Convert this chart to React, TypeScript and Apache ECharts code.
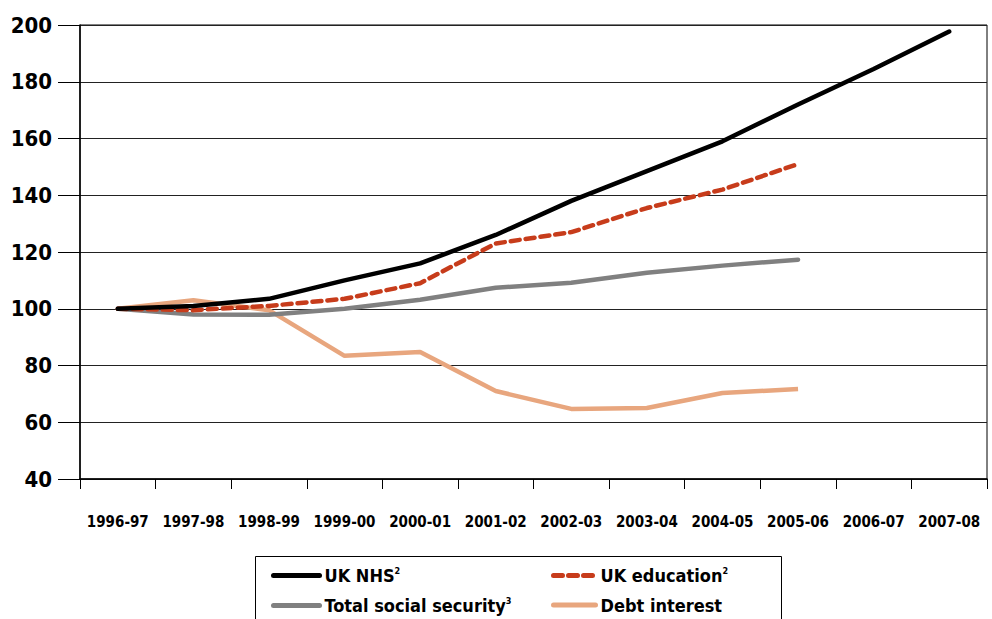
import React, { useEffect, useRef } from "react";
import * as echarts from "echarts";

const categories = ["1996-97", "1997-98", "1998-99", "1999-00", "2000-01", "2001-02", "2002-03", "2003-04", "2004-05", "2005-06", "2006-07", "2007-08"];
const nhs = [100, 101, 103.5, 110, 116, 126, 138, 148.5, 159, 172, 184.5, 197.7];
const education = [100, 99.5, 101, 103.5, 109, 123, 127, 135.5, 142, 151];
const socialSecurity = [100, 98, 97.9, 100, 103.2, 107.4, 109.2, 112.7, 115.2, 117.3];
const debtInterest = [100, 103, 99.5, 83.4, 84.8, 71, 64.7, 65, 70.3, 71.7];
const yTicks = { min: 40, max: 200, interval: 20 };

const FONT = "DejaVu Sans Condensed";

const legendNames: Record<string, string> = {
  "UK NHS": "{a|UK NHS}{s|2}",
  "UK education": "{a|UK education}{s|2}",
  "Total social security": "{a|Total social security}{s|3}",
  "Debt interest": "{a|Debt interest}",
};

const legendText = {
  color: "#000",
  fontFamily: FONT,
  rich: {
    a: { fontFamily: FONT, fontWeight: "bold", fontSize: 18, color: "#000" },
    s: { fontFamily: FONT, fontWeight: "bold", fontSize: 9, color: "#000", verticalAlign: "top", padding: [0, 0, 10, 0] },
  },
};

function mkLegend(name: string, left: number, top: number, w: number) {
  return {
    data: [name],
    left,
    top,
    itemWidth: w,
    itemHeight: 14,
    itemGap: 6,
    selectedMode: false,
    formatter: (n: string) => legendNames[n] || n,
    textStyle: legendText,
    itemStyle: { opacity: 0 },
    lineStyle: { width: 5, cap: "round" },
  };
}

export default function App() {
  const ref = useRef<HTMLDivElement>(null);
  useEffect(() => {
    if (!ref.current) return;
    const chart = echarts.init(ref.current, null, { renderer: "svg" });
    chart.setOption({
      animation: false,
      backgroundColor: "#fff",
      grid: { left: 80, right: 5, top: 25, bottom: 140, show: true, borderColor: "#000", borderWidth: 1 },
      xAxis: {
        type: "category",
        data: categories,
        boundaryGap: true,
        axisLine: { lineStyle: { color: "#000", width: 1.5 } },
        axisTick: { show: true, length: 10, lineStyle: { color: "#000" } },
        axisLabel: { color: "#000", fontFamily: FONT, fontWeight: "bold", fontSize: 15, margin: 35, interval: 0 },
      },
      yAxis: {
        type: "value",
        min: yTicks.min,
        max: yTicks.max,
        interval: yTicks.interval,
        axisLine: { show: true, lineStyle: { color: "#000", width: 1.5 } },
        axisTick: { show: true, length: 22, lineStyle: { color: "#000" } },
        axisLabel: { color: "#000", fontFamily: FONT, fontWeight: "bold", fontSize: 22, margin: 28 },
        splitLine: { show: true, lineStyle: { color: "#222", width: 1 } },
      },
      legend: [
        mkLegend("UK NHS", 266, 561, 46),
        mkLegend("UK education", 546, 561, 42),
        mkLegend("Total social security", 266, 591, 46),
        mkLegend("Debt interest", 546, 591, 42),
      ],
      graphic: [
        {
          type: "rect",
          shape: { x: 255.5, y: 556.5, width: 526, height: 80 },
          style: { fill: "none", stroke: "#000", lineWidth: 1 },
          z: 0,
        },
      ],
      series: [
        {
          name: "Debt interest",
          type: "line",
          data: debtInterest,
          symbol: "none",
          lineStyle: { color: "#e8a67e", width: 4.5 },
          itemStyle: { color: "#e8a67e" },
          z: 1,
        },
        {
          name: "Total social security",
          type: "line",
          data: socialSecurity,
          symbol: "none",
          lineStyle: { color: "#808080", width: 4.5, cap: "round" },
          itemStyle: { color: "#808080" },
          z: 2,
        },
        {
          name: "UK education",
          type: "line",
          data: education,
          symbol: "none",
          lineStyle: { color: "#c73c1b", width: 4.5, type: [9, 6], cap: "round" },
          itemStyle: { color: "#c73c1b" },
          z: 3,
        },
        {
          name: "UK NHS",
          type: "line",
          data: nhs,
          symbol: "none",
          lineStyle: { color: "#000", width: 4.5, cap: "round" },
          itemStyle: { color: "#000" },
          z: 4,
        },
      ],
    });
    return () => chart.dispose();
  }, []);
  return <div ref={ref} style={{ width: 992, height: 619, position: "absolute", left: 0, top: 0 }} />;
}
